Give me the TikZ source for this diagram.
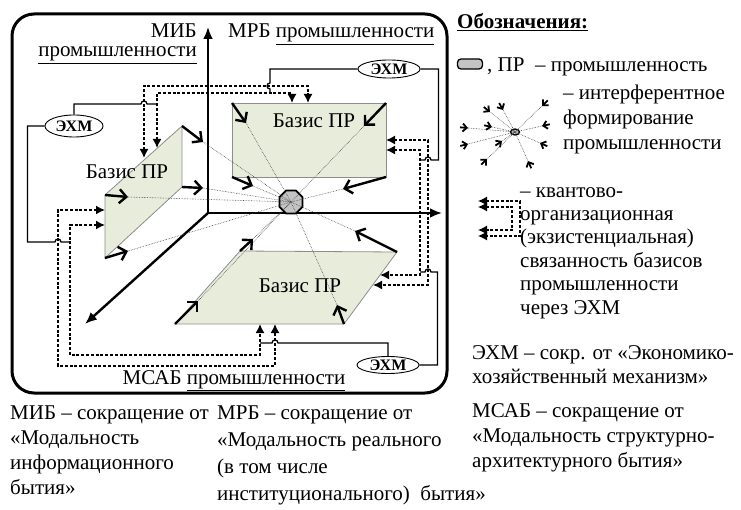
\documentclass[tikz,border=0pt]{standalone}
\usepackage{fontspec}
\setmainfont{Liberation Serif}
\usetikzlibrary{arrows.meta,shapes.geometric,calc}
\definecolor{basisgreen}{rgb}{0.91,0.93,0.86}
\definecolor{basisedge}{rgb}{0.55,0.55,0.55}
\definecolor{hubgray}{rgb}{0.77,0.77,0.77}
\tikzset{
  txt/.style={font=\fontsize{21}{25}\selectfont,inner sep=0pt},
  axisline/.style={line width=2.4pt,-{Latex[length=12pt,width=10pt]}},
  basis/.style={draw=basisedge,line width=0.8pt,fill=basisgreen},
  vecarrow/.style={line width=2.4pt,-{Straight Barb[length=7pt,width=14pt]}},
  icarrow/.style={line width=1.8pt,-{Straight Barb[length=4pt,width=8pt]}},
  ray/.style={black!75,densely dotted,line width=0.6pt},
  qlink/.style={line width=1.5pt,dash pattern=on 3pt off 1.8pt,
    {Latex[length=9pt,width=9pt]}-{Latex[length=9pt,width=9pt]}},
  ehm/.style={draw,ellipse,line width=0.9pt,inner sep=0pt,
    font=\bfseries\fontsize{16}{18}\selectfont},
  ehmlink/.style={line width=1.3pt},
}

\begin{document}
\begin{tikzpicture}[x=1pt,y=-1pt]
\useasboundingbox (0,0) rectangle (741,510);
%% frame
\draw[line width=3pt,rounded corners=22pt] (12,14) rectangle (447,393);

%% three bases
\coordinate (tTL) at (232,103); \coordinate (tTR) at (386,103);
\coordinate (tBR) at (386,177); \coordinate (tBL) at (232,177);
\coordinate (lLT) at (105,195); \coordinate (lRT) at (182,126);
\coordinate (lRB) at (182,187); \coordinate (lLB) at (105,258);
\coordinate (bBL) at (175,324); \coordinate (bTL) at (240,251);
\coordinate (bTR) at (397,252); \coordinate (bBR) at (344,324);
\draw[basis] (tTL) -- (tTR) -- (tBR) -- (tBL) -- cycle;
\draw[basis] (lLT) -- (lRT) -- (lRB) -- (lLB) -- cycle;
\draw[basis] (bBL) -- (bTL) -- (bTR) -- (bBR) -- cycle;
\node[txt] (tlab) at (314,121) {Базис ПР};
\node[txt] (llab) at (127,172) {Базис ПР};
\node[txt] (blab) at (300,286) {Базис ПР};

%% axes
\coordinate (O) at (208,213);
\coordinate (axup) at (208,27);
\coordinate (axright) at (442,213);
\coordinate (axdiag) at (85,324);
\draw[axisline] (O) -- (axup);
\draw[axisline] (O) -- (axright);
\draw[axisline] (O) -- (axdiag);
\node[txt,anchor=base east] (miblab) at (197,38) {МИБ};
\node[txt,anchor=base east] (mibind) at (197,57) {\underline{промышленности}};
\node[txt,anchor=base west] (mrblab) at (228,38) {МРБ \underline{промышленности}};
\node[txt,anchor=base] (msablab) at (234,384) {МСАБ \underline{промышленности}};

%% industry and interference
\node[regular polygon,regular polygon sides=8,minimum size=25pt,inner sep=0pt,
  draw,line width=1.8pt,fill=hubgray] (hub) at (291,202) {};
\foreach \s/\t/\x/\y in {tTL/ta/246/123, tTR/tb/364/126, tBL/tc/253/186, tBR/td/343/189,
    lRT/la/203/142, lRB/lb/203/188, lLT/lc/128/197, lLB/ld/128/251,
    bBL/ba/198/301, bTL/bb/253/239, bBR/bc/337/305, bTR/bd/355/231}{
  \coordinate (\t) at (\x,\y);
  \draw[ray] (\t) -- (hub.center);
  \draw[vecarrow] (\s) -- (\t);
}

%% quantum-organisational links
\coordinate (qla) at (144,158); \coordinate (qlb) at (157,148);
\coordinate (qlc) at (105,210); \coordinate (qld) at (105,225);
\coordinate (qta) at (308,103); \coordinate (qtb) at (292,103);
\coordinate (qtc) at (386,140); \coordinate (qtd) at (386,150);
\coordinate (qba) at (275,324); \coordinate (qbb) at (260,324);
\coordinate (qbc) at (373,285); \coordinate (qbd) at (380,275);
\draw[qlink] (qla) -- ++(0,-72) -| (qta);
\draw[qlink] (qlb) -- ++(0,-55) -| (qtb);
\draw[qlink] (qlc) -- ++(-47,0) -- ++(0,156) -| (qba);
\draw[qlink] (qld) -- ++(-35,0) -- ++(0,130) -| (qbb);
\draw[qlink] (qtc) -- ++(42,0) |- (qbc);
\draw[qlink] (qtd) -- ++(34,0) |- (qbd);

%% ЭХМ
\node[ehm,minimum width=58pt,minimum height=22pt] (ehmL) at (74,126) {ЭХМ};
\node[ehm,minimum width=62pt,minimum height=18pt] (ehmT) at (389,69) {ЭХМ};
\node[ehm,minimum width=62pt,minimum height=17pt] (ehmB) at (388,365) {ЭХМ};
\coordinate (jLa) at (157,104); \coordinate (hLa) at (141,104);
\coordinate (jLb) at (70,242);  \coordinate (hLb) at (55,242);
\coordinate (jTa) at (270,93);  \coordinate (hTa) at (270,83);
\coordinate (jTb) at (420,160); \coordinate (hTb) at (431,160);
\coordinate (jBa) at (420,272); \coordinate (hBa) at (431,272);
\coordinate (jBb) at (260,343); \coordinate (hBb) at (278,343);
\draw[ehmlink] (ehmL.north) |- (hLa) arc (180:360:3) -- (jLa);
\draw[ehmlink] (ehmL.west) -- ++(-17,0) |- (hLb) arc (180:360:3) -- (jLb);
\draw[ehmlink] (ehmT.west) -| (hTa) arc (270:90:3) -- (jTa);
\draw[ehmlink] (ehmT.east) -- ++(18,0) |- (hTb) arc (360:180:3) -- (jTb);
\draw[ehmlink] (ehmB.east) -- ++(18,0) |- (hBa) arc (360:180:3) -- (jBa);
\draw[ehmlink] (ehmB.north) |- (hBb) arc (360:180:3) -- (jBb);

%% legend
\node[txt,anchor=base west] (legtitle) at (457,29) {\underline{\textbf{Обозначения:}}};
\node[draw,fill=hubgray,line width=1.3pt,rounded corners=3.5pt,minimum width=25pt,
  minimum height=10pt,inner sep=0pt] (legpr) at (470,64) {};
\node[txt,anchor=base west] (legprtxt) at (487,72) {, ПР\enspace– промышленность};
\node[draw,ellipse,line width=1.3pt,minimum width=9pt,minimum height=6pt,inner sep=0pt,
  fill=hubgray] (ic) at (515,132) {};
\foreach \dx/\dy in {-47/-4,-47/12,-25/-20,-12/-22,-23/-5,-13/9,-28/27,27/-26,27/-6,25/11,13/29}{
  \coordinate (ict) at ($(ic.center)+(\dx,\dy)$);
  \draw[ray] (ic.center) -- (ict);
  \draw[icarrow] ($(ict)!-8pt!(ic.center)$) -- (ict);
}
\node[txt,anchor=north west,align=left] (leginter) at (563,85)
  {– интерферентное\\формирование\\промышленности};
\coordinate (qia) at (478,201); \coordinate (qib) at (478,236);
\coordinate (qic) at (478,207); \coordinate (qid) at (478,230);
\draw[qlink,line width=1.2pt] (qia) -- ++(42,0) |- (qib);
\draw[qlink,line width=1.2pt] (qic) -- ++(34,0) |- (qid);
\node[txt,anchor=north west,align=left,font=\fontsize{21}{23.4}\selectfont] (legq) at (520,187)
  {– квантово-\\организационная\\(экзистенциальная)\\связанность базисов\\промышленности\\через ЭХМ};
\node[txt,anchor=north west,align=left,font=\fontsize{21}{24}\selectfont] (legehm) at (472,345)
  {ЭХМ – сокр. от «Экономико-\\хозяйственный механизм»};

%% abbreviations
\node[txt,anchor=north west,align=left] (defmib) at (10,406)
  {МИБ – сокращение от\\«Модальность\\информационного\\бытия»};
\node[txt,anchor=north west,align=left,font=\fontsize{21}{27}\selectfont] (defmrb) at (217,406)
  {МРБ – сокращение от\\«Модальность реального\\(в том числе\\институционального)\ \ бытия»};
\node[txt,anchor=north west,align=left] (defmsab) at (472,403)
  {МСАБ – сокращение от\\«Модальность структурно-\\архитектурного бытия»};
\end{tikzpicture}
\end{document}
